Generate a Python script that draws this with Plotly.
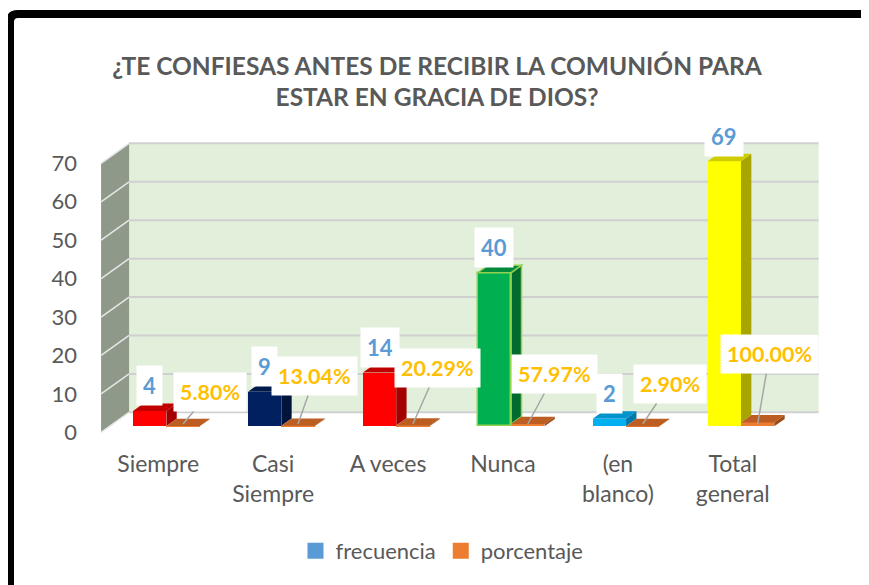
import plotly.graph_objects as go

# ---------------- data ----------------
categories = ["Siempre", "Casi Siempre", "A veces", "Nunca", "(en blanco)", "Total general"]
tick_labels = ["Siempre", "Casi<br>Siempre", "A veces", "Nunca", "(en<br>blanco)", "Total<br>general"]
frecuencia = [4, 9, 14, 40, 2, 69]
porcentaje = [0.0580, 0.1304, 0.2029, 0.5797, 0.0290, 1.0000]
y_ticks = [0, 10, 20, 30, 40, 50, 60, 70]
title_text = "¿TE CONFIESAS ANTES DE RECIBIR LA COMUNIÓN PARA<br>ESTAR EN GRACIA DE DIOS?"

# ---------------- styles ----------------
front_cols = ["#FF0000", "#002060", "#FF0000", "#00B050", "#00B0F0", "#FFFF00"]
side_cols = ["#A50000", "#00143C", "#A50000", "#006B2E", "#0078A8", "#A8A500"]
top_cols = ["#C00000", "#001A4E", "#C00000", "#008A3C", "#0094CC", "#CFCC00"]
edge_cols = ["rgba(0,0,0,0)", "rgba(0,0,0,0)", "rgba(0,0,0,0)", "#92D050", "rgba(0,0,0,0)", "rgba(0,0,0,0)"]
edge_w = [0, 0, 0, 1.5, 0, 0]
pct_front, pct_top, pct_side = "#ED7D31", "#BC5E22", "#9C4A18"
# pixel offsets of percentage label boxes relative to the leader tip
pct_ax = [27, 17, 25, 27, 27, 12]
pct_ay = [-32, -48, -56, -50, -40, -70]

OFF = 8                      # page body margin
W, H = 869 - OFF, 585 - OFF
ML, MR, MT, MB = 90, 47, 134, 151
XR = [-0.6, 5.7]
YR = [-2, 74]
pxx = (W - ML - MR) / (XR[1] - XR[0])
pxy = (H - MT - MB) / (YR[1] - YR[0])
# full depth of the 3-D box (px) and its data-unit equivalent
DX, DY = 28 / pxx, 20 / pxy
FRONT, BAR_D = 0.3, 0.37      # bar front plane depth, bar depth fraction
fdx, fdy = -FRONT * DX, -FRONT * DY
bdx, bdy = (1 - FRONT) * DX, (1 - FRONT) * DY
ddx, ddy = BAR_D * DX, BAR_D * DY
BW = 0.29
off_f, off_p = -0.15, 0.14

def path(pts):
    return "M " + " L ".join(f"{x:.4f},{y:.4f}" for x, y in pts) + " Z"

shapes = []
# back wall
shapes.append(dict(type="path", xref="x", yref="y", layer="below",
                   path=path([(-0.5 + bdx, bdy), (5.5 + bdx, bdy), (5.5 + bdx, 70 + bdy), (-0.5 + bdx, 70 + bdy)]),
                   fillcolor="#E2EFDA", line=dict(width=0)))
for v in y_ticks:
    shapes.append(dict(type="line", xref="x", yref="y", layer="below",
                       x0=-0.5 + bdx, x1=5.5 + bdx, y0=v + bdy, y1=v + bdy,
                       line=dict(color="#D0D0D0", width=2)))
# side wall
shapes.append(dict(type="path", xref="x", yref="y", layer="below",
                   path=path([(-0.5 + fdx, fdy), (-0.5 + bdx, bdy), (-0.5 + bdx, 70 + bdy), (-0.5 + fdx, 70 + fdy)]),
                   fillcolor="#8E998A", line=dict(width=0)))
for v in y_ticks:
    shapes.append(dict(type="line", xref="x", yref="y", layer="below",
                       x0=-0.5 + fdx, x1=-0.5 + bdx, y0=v + fdy, y1=v + bdy,
                       line=dict(color="#E6E6E6", width=1.5)))

# 3-D faces of the bars
for i, (f, p) in enumerate(zip(frecuencia, porcentaje)):
    xl1 = i + off_f - BW / 2
    xr1 = i + off_f + BW / 2
    xr2 = i + off_p + BW / 2
    ln = dict(color=edge_cols[i], width=edge_w[i])
    shapes.append(dict(type="path", xref="x", yref="y", layer="above",
                       path=path([(xr1, p), (xr1 + ddx, p + ddy), (xr1 + ddx, f + ddy), (xr1, f)]),
                       fillcolor=side_cols[i], line=ln))
    shapes.append(dict(type="path", xref="x", yref="y", layer="above",
                       path=path([(xl1, f), (xr1, f), (xr1 + ddx, f + ddy), (xl1 + ddx, f + ddy)]),
                       fillcolor=top_cols[i], line=ln))
    shapes.append(dict(type="path", xref="x", yref="y", layer="above",
                       path=path([(xr1, p), (xr2, p), (xr2 + ddx, p + ddy), (xr1 + ddx, p + ddy)]),
                       fillcolor=pct_top, line=dict(width=0)))
    shapes.append(dict(type="path", xref="x", yref="y", layer="above",
                       path=path([(xr2, 0), (xr2 + ddx, ddy), (xr2 + ddx, p + ddy), (xr2, p)]),
                       fillcolor=pct_side, line=dict(width=0)))

# outer black frame (figure pixel coords -> paper)
def pp(px, py):
    return (px - ML) / (W - ML - MR), (H - MB - py) / (H - MT - MB)
a = pp(2, 600); b = pp(2, 14); c = pp(2, 6); d = pp(10, 6); e = pp(880, 6)
shapes.append(dict(type="path", xref="paper", yref="paper", layer="above",
                   path=f"M {a[0]},{a[1]} L {b[0]},{b[1]} Q {c[0]},{c[1]} {d[0]},{d[1]} L {e[0]},{e[1]}",
                   line=dict(color="#000000", width=8)))

fig = go.Figure()
fig.add_trace(go.Bar(x=[i + off_f for i in range(len(categories))], y=frecuencia, width=BW,
                     marker=dict(color=front_cols, line=dict(color=edge_cols, width=edge_w)),
                     name="frecuencia", showlegend=False, customdata=categories,
                     hovertemplate="%{customdata}: %{y}<extra>frecuencia</extra>"))
fig.add_trace(go.Bar(x=[i + off_p for i in range(len(categories))], y=porcentaje, width=BW,
                     marker=dict(color=pct_front, line=dict(width=0)),
                     name="porcentaje", showlegend=False, customdata=categories,
                     hovertemplate="%{customdata}: %{y:.2%}<extra>porcentaje</extra>"))
# legend entries
fig.add_trace(go.Scatter(x=[None], y=[None], mode="markers", name="frecuencia",
                         marker=dict(symbol="square", size=16, color="#5B9BD5")))
fig.add_trace(go.Scatter(x=[None], y=[None], mode="markers", name="porcentaje",
                         marker=dict(symbol="square", size=16, color="#ED7D31")))

annotations = []
for i, f in enumerate(frecuencia):
    annotations.append(dict(x=i + off_f, y=f, xref="x", yref="y", text=f"<b>{f}</b>", showarrow=False,
                            yshift=25, bgcolor="#FFFFFF", borderpad=6,
                            font=dict(family="Lato", size=22, color="#5B9BD5")))
for i, p in enumerate(porcentaje):
    annotations.append(dict(x=i + off_p, y=0.6, xref="x", yref="y", text=f"<b>{p * 100:.2f}%</b>",
                            showarrow=True, arrowhead=0, arrowwidth=1.5, arrowcolor="#A6A6A6",
                            ax=pct_ax[i], ay=pct_ay[i], bgcolor="#FFFFFF", borderpad=6,
                            font=dict(family="Lato", size=21.5, color="#FFC000")))

fig.update_layout(
    width=W, height=H, margin=dict(l=ML, r=MR, t=MT, b=MB),
    paper_bgcolor="#FFFFFF", plot_bgcolor="rgba(0,0,0,0)",
    barmode="overlay", bargap=0,
    title=dict(text=f"<b>{title_text}</b>", x=(437 - OFF) / W, xanchor="center",
               y=1 - (74.5 - OFF) / H, yanchor="middle",
               font=dict(family="Lato", size=24.5, color="#595959")),
    xaxis=dict(range=XR, tickvals=[i - 0.076 for i in range(len(categories))], ticktext=tick_labels,
               showgrid=False, zeroline=False, showline=False, ticks="", ticklabelstandoff=14,
               tickfont=dict(family="Lato", size=23, color="#595959")),
    yaxis=dict(range=YR, tickvals=[v + fdy for v in y_ticks], ticktext=[str(v) for v in y_ticks],
               showgrid=False, zeroline=False, showline=False, ticks="", ticklabelstandoff=20,
               tickfont=dict(family="Lato", size=22, color="#595959")),
    legend=dict(orientation="h", xref="container", yref="container", x=(442 - OFF) / W, xanchor="center",
                y=1 - (551 - OFF) / H, yanchor="middle", font=dict(family="Lato", size=22, color="#595959"),
                itemwidth=30, traceorder="normal"),
    shapes=shapes, annotations=annotations,
)

fig.write_html("out.html")
